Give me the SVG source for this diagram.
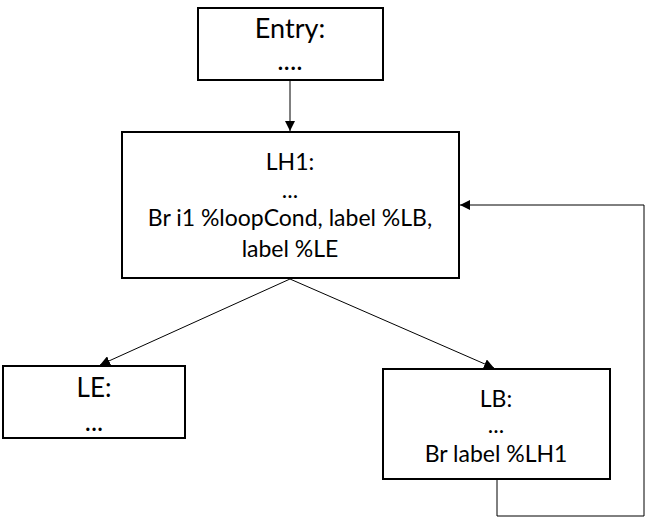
<svg xmlns="http://www.w3.org/2000/svg" width="650" height="518" viewBox="0 0 650 518">
<defs>
<marker id="arr" viewBox="0 0 10 10" refX="10" refY="5" markerWidth="10" markerHeight="10" markerUnits="userSpaceOnUse" orient="auto">
<path d="M0,0 L10,5 L0,10 z" fill="#000"/>
</marker>
<style>
.box{fill:#fff;stroke:#000;stroke-width:2}
.t{font-family:Lato,"Liberation Sans",sans-serif;fill:#000;text-anchor:middle}
.c{fill:none;stroke:#000;stroke-width:1}
</style>
</defs>
<rect width="650" height="518" fill="#fff"/>
<g id="connectors">
<line class="c" x1="290" y1="80" x2="290" y2="131" marker-end="url(#arr)"/>
<line class="c" x1="290" y1="279" x2="100" y2="365" marker-end="url(#arr)"/>
<line class="c" x1="290" y1="279" x2="494" y2="368" marker-end="url(#arr)"/>
<polyline class="c" points="497,480 497,516 644,516 644,205 460,205" marker-end="url(#arr)"/>
</g>
<g id="entry">
<rect class="box" x="198" y="8" width="185" height="72"/>
<text class="t" x="290" y="38" font-size="27">Entry:</text>
<text class="t" x="290" y="70" font-size="27">....</text>
</g>
<g id="lh1">
<rect class="box" x="122" y="132" width="337" height="146"/>
<text class="t" x="290" y="170" font-size="23">LH1:</text>
<text class="t" x="290" y="198" font-size="23">...</text>
<text class="t" x="290" y="226" font-size="23">Br i1 %loopCond, label %LB,</text>
<text class="t" x="290" y="257" font-size="23">label %LE</text>
</g>
<g id="le">
<rect class="box" x="3" y="366" width="182" height="72"/>
<text class="t" x="94" y="397" font-size="26">LE:</text>
<text class="t" x="94" y="431" font-size="26">...</text>
</g>
<g id="lb">
<rect class="box" x="383" y="369" width="227" height="110"/>
<text class="t" x="496" y="407" font-size="23">LB:</text>
<text class="t" x="496" y="433" font-size="23">...</text>
<text class="t" x="496" y="462" font-size="23">Br label %LH1</text>
</g>
</svg>
